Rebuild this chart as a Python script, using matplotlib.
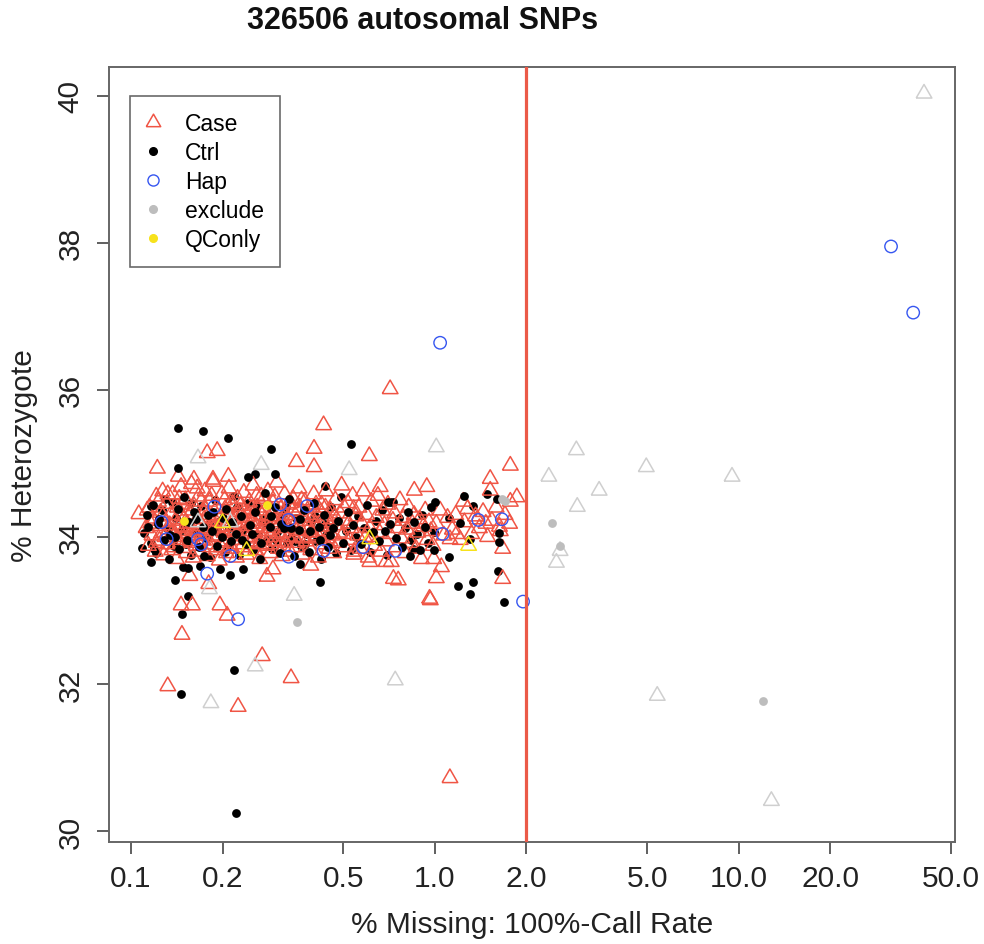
import numpy as np
import matplotlib
matplotlib.use('Agg')
from matplotlib import pyplot as plt
import matplotlib.font_manager as fm

#%% Data (x = % missing, y = % heterozygote)
# Case samples, red triangles
case_pts = [
    # core, left part
    (0.112,34.12),(0.114,33.88),(0.115,34.40),(0.117,34.02),(0.118,34.25),(0.120,33.80),(0.121,34.55),(0.122,34.15),
    (0.124,33.95),(0.125,34.33),(0.126,34.05),(0.127,34.62),(0.128,33.75),(0.130,34.20),(0.131,34.45),(0.132,33.90),
    (0.133,34.10),(0.135,34.30),(0.136,33.82),(0.137,34.58),(0.138,34.00),(0.140,34.22),(0.141,33.70),(0.142,34.40),
    (0.143,34.12),(0.145,33.92),(0.146,34.68),(0.147,34.28),(0.148,33.85),(0.150,34.05),(0.151,34.50),(0.152,33.78),
    (0.153,34.18),(0.155,34.36),(0.156,33.98),(0.158,34.72),(0.159,34.10),(0.160,33.72),
    (0.161,34.42),(0.163,34.02),(0.164,33.88),(0.166,34.25),(0.167,34.55),(0.169,33.80),(0.170,34.15),(0.172,34.35),
    (0.173,33.95),(0.175,34.62),(0.176,34.08),(0.178,33.74),(0.180,34.30),(0.181,34.48),(0.183,33.90),(0.185,34.18),
    (0.186,34.75),(0.188,34.00),(0.190,33.82),(0.192,34.40),(0.193,34.12),(0.195,33.68),(0.197,34.26),(0.199,34.58),
    (0.200,33.94),(0.202,34.06),(0.204,34.38),(0.206,33.78),(0.208,34.20),(0.210,34.66),(0.212,33.88),(0.214,34.10),
    (0.216,34.45),(0.218,33.96),(0.220,34.28),(0.222,33.72),(0.224,34.52),(0.226,34.02),(0.228,34.34),
    (0.231,33.86),(0.233,34.15),(0.235,34.60),(0.238,34.00),(0.240,33.76),(0.242,34.32),(0.245,34.48),(0.247,33.92),
    (0.250,34.18),(0.252,34.70),(0.255,34.05),(0.257,33.82),(0.260,34.40),(0.263,34.22),(0.265,33.70),(0.268,34.55),
    (0.270,33.98),(0.273,34.12),(0.276,34.36),(0.279,33.88),(0.282,34.62),(0.284,34.08),(0.287,33.78),(0.290,34.28),
    (0.293,34.46),(0.296,33.95),(0.299,34.16),(0.302,34.74),(0.305,33.84),(0.308,34.04),(0.311,34.38),(0.314,33.74),
    (0.317,34.25),(0.320,34.58),(0.323,33.92),(0.326,34.12),(0.329,34.44),
    (0.333,33.80),(0.337,34.20),(0.341,34.52),(0.345,34.00),(0.349,33.86),(0.353,34.34),(0.357,34.66),(0.361,34.10),
    (0.365,33.76),(0.369,34.26),(0.373,34.48),(0.377,33.94),(0.381,34.14),(0.386,34.40),(0.390,33.82),(0.395,34.06),
    (0.399,34.58),(0.404,33.98),(0.408,34.30),(0.413,33.72),(0.418,34.18),(0.423,34.44),(0.428,33.90),(0.433,34.08),
    (0.438,34.62),(0.443,34.24),(0.448,33.84),(0.453,34.36),(0.459,34.02),(0.464,33.78),(0.470,34.50),(0.475,34.16),
    (0.481,33.92),(0.487,34.32),(0.493,34.70),(0.499,34.04),(0.505,33.86),(0.511,34.22),(0.517,34.46),(0.523,33.96),
    (0.530,34.12),(0.536,34.56),(0.542,33.80),(0.549,34.28),
    (0.119,34.22),(0.123,34.48),(0.129,34.00),(0.134,34.16),(0.139,33.86),(0.144,34.52),(0.149,34.24),(0.154,34.08),
    (0.157,33.94),(0.162,34.18),(0.165,34.66),(0.171,33.96),(0.174,34.24),(0.179,34.12),(0.184,34.56),(0.189,34.22),
    (0.194,34.02),(0.198,33.86),(0.203,34.50),(0.207,34.14),(0.211,34.30),(0.215,33.84),(0.219,34.08),(0.223,34.18),
    (0.229,34.42),(0.234,34.26),(0.239,34.08),(0.244,33.98),(0.249,34.38),(0.254,34.28),(0.259,34.14),(0.264,33.90),
    (0.269,34.30),(0.274,34.52),(0.280,34.18),(0.286,34.00),(0.292,34.34),(0.298,34.24),(0.304,33.94),(0.310,34.20),
    (0.316,34.06),(0.322,34.30),(0.328,34.00),(0.335,34.46),(0.343,34.14),(0.351,34.08),(0.359,34.40),(0.367,33.98),
    (0.375,34.22),(0.384,34.10),(0.393,34.26),(0.402,34.14),(0.411,34.02),(0.421,34.34),(0.431,34.20),(0.441,33.98),
    (0.451,34.14),
    (0.113,34.36),(0.116,34.18),(0.121,33.92),(0.127,34.28),(0.132,34.58),(0.137,34.06),(0.142,33.96),(0.147,34.44),
    (0.151,34.14),(0.156,34.30),(0.160,34.02),(0.166,33.92),(0.170,34.48),(0.176,34.36),(0.181,33.86),(0.187,34.10),
    (0.192,34.28),(0.198,34.14),(0.205,33.92),(0.212,34.46),(0.219,34.24),(0.227,33.90),(0.236,34.36),(0.243,34.20),
    (0.251,33.94),(0.259,34.56),(0.268,34.08),(0.277,34.24),(0.288,33.90),(0.297,34.54),(0.307,34.28),(0.318,33.86),
    (0.330,34.24),(0.340,34.36),(0.352,33.92),(0.364,34.50),(0.378,34.30),(0.392,34.00),(0.406,34.44),(0.420,34.06),
    (0.436,34.40),(0.452,33.94),(0.468,34.28),(0.485,34.06),(0.503,34.40),(0.520,34.18),(0.540,34.38),
    # middle part
    (0.556,34.02),(0.562,34.40),(0.568,33.84),(0.575,34.18),(0.582,34.62),(0.589,33.98),(0.596,34.30),(0.603,33.72),
    (0.610,34.12),(0.617,34.48),(0.625,34.00),(0.633,33.88),(0.641,34.26),(0.649,34.56),(0.657,34.06),(0.665,33.80),
    (0.673,34.36),(0.682,34.16),(0.691,33.94),(0.700,34.44),(0.709,34.04),(0.718,33.66),(0.727,34.22),(0.737,34.32),
    (0.747,33.86),(0.757,34.12),(0.767,34.50),(0.777,33.98),(0.787,34.26),(0.798,33.78),(0.809,34.10),(0.820,34.40),
    (0.831,33.92),(0.842,34.18),(0.854,34.30),(0.866,33.84),(0.878,34.06),(0.890,34.24),(0.903,33.70),(0.916,34.14),
    (0.929,34.36),(0.942,33.96),(0.956,34.20),(0.970,34.08),(0.985,33.88),
    # right part, up to the cut-off
    (1.01,34.18),(1.04,34.36),(1.07,34.02),(1.10,34.26),(1.14,34.10),(1.17,34.30),(1.21,33.96),(1.25,34.20),
    (1.28,34.38),(1.32,34.04),(1.36,34.28),(1.40,34.12),(1.44,34.34),(1.49,34.00),(1.54,34.22),(1.59,34.40),
    (1.64,34.08),(1.70,34.30),(1.76,34.18),
    # scattered ones
    (0.106,34.31),(0.122,34.93),(0.143,34.82),(0.161,34.78),(0.186,34.78),(0.209,34.82),(0.178,35.14),(0.192,35.17),
    (0.350,35.02),(0.400,35.20),(0.400,34.95),(0.430,35.52),(0.608,35.10),(0.660,34.68),(0.712,36.01),(0.855,34.63),
    (0.940,34.68),(1.52,34.79),(1.52,34.63),(1.77,34.97),(1.77,34.48),(1.86,34.54),(1.24,34.48),(1.67,33.84),
    (1.67,33.43),(0.757,33.41),(0.730,33.43),(0.960,33.16),(1.01,33.44),(1.05,33.59),(0.990,33.70),(0.610,33.66),
    (0.690,33.66),(0.540,33.76),(0.390,33.61),(0.280,33.46),(0.293,33.56),(0.156,33.47),(0.180,33.36),(0.146,33.07),
    (0.159,33.07),(0.196,33.07),(0.207,32.93),(0.147,32.67),(0.270,32.38),(0.132,31.97),(0.336,32.08),(0.225,31.69),
    (0.965,33.14),(1.12,30.72),(1.47,34.18),(1.38,34.24),(1.18,34.04),(1.12,33.97),(1.63,34.14),
]

# Control samples, black dots
ctrl_pts = [
    (0.110,34.05),(0.113,34.30),(0.116,33.92),(0.118,34.44),(0.121,33.78),(0.123,34.18),(0.126,34.36),(0.128,33.96),
    (0.131,34.12),(0.133,33.70),(0.136,34.48),(0.139,34.00),(0.141,34.26),(0.144,33.84),(0.147,34.10),(0.149,34.54),
    (0.152,33.90),(0.155,34.20),(0.158,33.76),(0.161,34.34),(0.164,34.06),(0.167,33.86),(0.170,34.42),(0.173,34.14),
    (0.176,33.98),(0.179,34.30),(0.182,33.72),(0.185,34.08),(0.189,34.50),(0.192,33.88),(0.196,34.22),(0.199,34.00),
    (0.203,33.80),(0.206,34.38),(0.210,34.12),(0.214,33.94),(0.218,34.56),(0.222,34.04),(0.226,33.76),(0.230,34.28),
    (0.234,34.10),(0.238,33.90),(0.243,34.46),(0.247,34.16),(0.252,33.82),(0.256,34.34),(0.261,34.02),(0.266,33.70),
    (0.271,34.24),(0.276,34.60),(0.281,33.96),(0.286,34.14),(0.291,33.84),(0.297,34.40),(0.302,34.06),(0.308,33.78),
    (0.313,34.30),(0.319,34.12),(0.325,33.92),(0.331,34.52),(0.337,34.00),(0.344,33.74),(0.350,34.26),(0.357,34.10),
    (0.363,33.88),(0.370,34.36),(0.377,34.04),(0.384,33.80),(0.391,34.20),(0.399,34.46),(0.406,33.94),(0.414,34.14),
    (0.422,33.70),(0.430,34.30),(0.438,34.02),(0.446,33.86),(0.455,34.40),(0.463,34.12),(0.472,33.78),(0.481,34.22),
    (0.490,34.54),(0.500,33.92),(0.509,34.08),(0.519,34.34),(0.529,33.82),(0.539,34.16),(0.549,34.00),
    (0.114,34.14),(0.119,33.84),(0.124,34.24),(0.129,34.52),(0.134,34.02),(0.138,33.88),(0.143,34.38),(0.148,34.16),
    (0.153,33.96),(0.157,34.46),(0.163,34.24),(0.168,34.02),(0.174,33.74),(0.180,34.18),(0.186,34.34),(0.193,34.06),
    (0.200,34.26),(0.208,33.88),(0.215,34.20),(0.223,34.40),(0.232,33.96),(0.241,34.14),(0.250,34.04),(0.259,34.42),
    (0.268,33.92),(0.278,34.18),(0.289,34.28),(0.300,33.96),(0.311,34.18),(0.323,34.40),(0.335,34.12),(0.347,33.94),
    (0.360,34.24),(0.374,33.90),(0.388,34.08),(0.403,34.28),(0.418,33.96),(0.434,34.18),(0.450,34.02),
    (0.560,34.28),(0.572,33.90),(0.585,34.12),(0.598,34.44),(0.611,33.80),(0.625,34.06),(0.639,34.22),(0.653,33.94),
    (0.668,34.36),(0.683,34.08),(0.698,33.76),(0.714,34.18),(0.730,34.48),(0.746,33.98),(0.763,34.26),(0.780,33.86),
    (0.797,34.12),(0.815,34.34),(0.833,33.96),(0.852,34.20),(0.871,34.04),(0.890,33.82),(0.910,34.30),(0.930,34.14),
    (0.951,33.92),(0.972,34.40),(0.994,34.06),
    # scattered ones
    (0.143,35.48),(0.172,35.44),(0.209,35.35),(0.288,35.20),(0.143,34.94),(0.530,35.26),(0.297,34.86),(0.256,34.86),
    (0.243,34.82),(0.435,34.69),(0.700,34.48),(0.109,33.85),(0.116,33.66),(0.148,33.59),(0.154,33.58),(0.169,33.61),
    (0.196,33.56),(0.212,33.48),(0.234,33.56),(0.139,33.41),(0.420,33.39),(0.154,33.20),(0.360,33.63),(0.147,32.95),
    (0.218,32.19),(0.146,31.86),(0.221,30.24),(1.69,33.12),(1.19,33.33),(1.33,33.39),(1.30,33.22),(1.61,33.54),
    (1.25,34.56),(1.48,34.58),(1.60,34.52),(1.33,34.42),(1.21,34.19),(1.11,34.26),(1.63,34.05),(1.30,33.97),
    (0.990,33.82),(1.11,33.73),(0.830,33.74),(0.850,33.84),(1.62,33.93),(0.710,34.48),(1.00,34.48),(0.116,34.42),
]

# Hap samples, blue open circles
hap_pts = [
    (31.7,37.95),(37.5,37.05),(1.04,36.64),(1.95,33.12),(0.225,32.88),(0.178,33.50),(0.188,34.41),(0.126,34.20),
    (0.131,33.97),(0.166,33.97),(0.170,33.90),(0.212,33.74),(0.310,34.44),(0.330,34.23),(0.380,34.42),(0.330,33.73),
    (0.430,33.81),(0.580,33.86),(0.740,33.81),(1.66,34.24),(1.39,34.23),(1.06,34.04),
]

# excluded samples, grey (triangles = case, dots = ctrl)
excl_case_pts = [
    (40.7,40.03),(2.92,35.18),(2.37,34.82),(4.96,34.95),(9.5,34.82),(3.47,34.63),(2.94,34.41),(2.58,33.81),
    (2.51,33.65),(5.39,31.84),(12.8,30.41),(1.01,35.22),(0.522,34.91),(0.268,34.98),(0.166,35.07),(0.344,33.20),
    (0.256,32.24),(0.183,31.74),(0.740,32.05),(0.181,33.29),(0.166,34.20),(0.212,34.20),
]
excl_ctrl_pts = [(2.43,34.19),(2.58,33.88),(12.0,31.77),(0.351,32.84),(1.70,34.49),(1.66,34.52)]

# QC only samples, yellow
qc_case_pts = [(0.200,34.19),(0.240,33.81),(0.610,33.97),(1.29,33.88)]
qc_ctrl_pts = [(0.149,34.22),(0.280,34.44)]

cutoff = 2.0
title = '326506 autosomal SNPs'
xticks = [0.1, 0.2, 0.5, 1.0, 2.0, 5.0, 10.0, 20.0, 50.0]
xticklabels = ['0.1', '0.2', '0.5', '1.0', '2.0', '5.0', '10.0', '20.0', '50.0']
yticks = [30, 32, 34, 36, 38, 40]
legend_labels = ['Case', 'Ctrl', 'Hap', 'exclude', 'QConly']

#%% Fonts
names = {f.name for f in fm.fontManager.ttflist}
if 'Liberation Sans Narrow' in names:
    axfont, axsize = 'Liberation Sans Narrow', 25
else:
    axfont, axsize = 'Liberation Sans', 21.5
plt.rcParams['font.family'] = ['Liberation Sans', 'DejaVu Sans']

# equilateral triangle like R's pch=2
tri = [(-1, -0.577), (1, -0.577), (0, 1.155), (-1, -0.577)]

RED = '#F05545'
GREY_T = '#CFCFCF'
GREY_D = '#BDBDBD'
BLUE = '#3656F0'
YEL = '#F7E21C'

def xy(pts):
    a = np.array(pts)
    return a[:, 0], a[:, 1]

#%% Plot
fig = plt.figure(figsize=(9.84, 9.45), dpi=100)
ax = fig.add_axes([0.1108, 0.1079, 0.8598, 0.8201])
ax.set_xscale('log')

cx, cy = xy(ctrl_pts)
x, y = xy(case_pts)
ax.scatter(cx[::2], cy[::2], s=40, c='black', linewidths=0, zorder=2)
ax.scatter(x, y, s=170, marker=tri, facecolors='none', edgecolors=RED, linewidths=1.1, zorder=3)
ax.scatter(cx[1::2], cy[1::2], s=40, c='black', linewidths=0, zorder=4)

x, y = xy(excl_case_pts)
ax.scatter(x, y, s=170, marker=tri, facecolors='none', edgecolors=GREY_T, linewidths=1.1, zorder=5)
x, y = xy(excl_ctrl_pts)
ax.scatter(x, y, s=40, c=GREY_D, linewidths=0, zorder=5)
x, y = xy(hap_pts)
ax.scatter(x, y, s=80, facecolors='none', edgecolors=BLUE, linewidths=1.0, zorder=6)
x, y = xy(qc_case_pts)
ax.scatter(x, y, s=170, marker=tri, facecolors='none', edgecolors=YEL, linewidths=1.1, zorder=6)
x, y = xy(qc_ctrl_pts)
ax.scatter(x, y, s=40, c=YEL, linewidths=0, zorder=6)

ax.axvline(cutoff, color='#EB5A48', lw=2.3, zorder=7)

ax.set_xlim(0.0846, 51.5)
ax.set_ylim(29.85, 40.39)
ax.set_xticks(xticks)
ax.set_xticklabels(xticklabels)
ax.minorticks_off()
ax.set_yticks(yticks)
ax.set_yticklabels([str(v) for v in yticks], rotation=90, va='center')
ax.tick_params(length=8.6, width=1.2, color='#444444', labelsize=axsize, labelcolor='#222222')
ax.tick_params(axis='x', pad=7)
ax.tick_params(axis='y', pad=9)
for lab in ax.get_xticklabels() + ax.get_yticklabels():
    lab.set_family(axfont)
for sp in ax.spines.values():
    sp.set_color('#666666')
    sp.set_linewidth(1.4)

ax.set_xlabel('% Missing: 100%-Call Rate', family=axfont, fontsize=axsize, color='#222222')
ax.set_ylabel('% Heterozygote', family=axfont, fontsize=axsize, color='#222222')
ax.xaxis.set_label_coords(0.5, -0.088)
ax.yaxis.set_label_coords(-0.084, 0.5)

fig.text(0.429, 0.978, title, ha='center', va='center', fontsize=22, fontweight='bold', color='#111111')

# legend
h = [
    plt.Line2D([], [], ls='none', marker=tri, ms=12, mfc='none', mec=RED, mew=1.1),
    plt.Line2D([], [], ls='none', marker='o', ms=5.5, mfc='black', mec='black'),
    plt.Line2D([], [], ls='none', marker='o', ms=8, mfc='none', mec=BLUE, mew=1.0),
    plt.Line2D([], [], ls='none', marker='o', ms=5.5, mfc=GREY_D, mec=GREY_D),
    plt.Line2D([], [], ls='none', marker='o', ms=5.5, mfc=YEL, mec=YEL),
]
leg = ax.legend(h, legend_labels, loc='upper left', bbox_to_anchor=(0.0248, 0.9626),
                fontsize=16.5, frameon=True, fancybox=False, borderpad=0.7,
                labelspacing=0.26, handlelength=0.61, handletextpad=1.09, borderaxespad=0)
leg.get_frame().set_edgecolor('#444444')
leg.get_frame().set_linewidth(1.2)

fig.savefig('out.png', dpi=100)
